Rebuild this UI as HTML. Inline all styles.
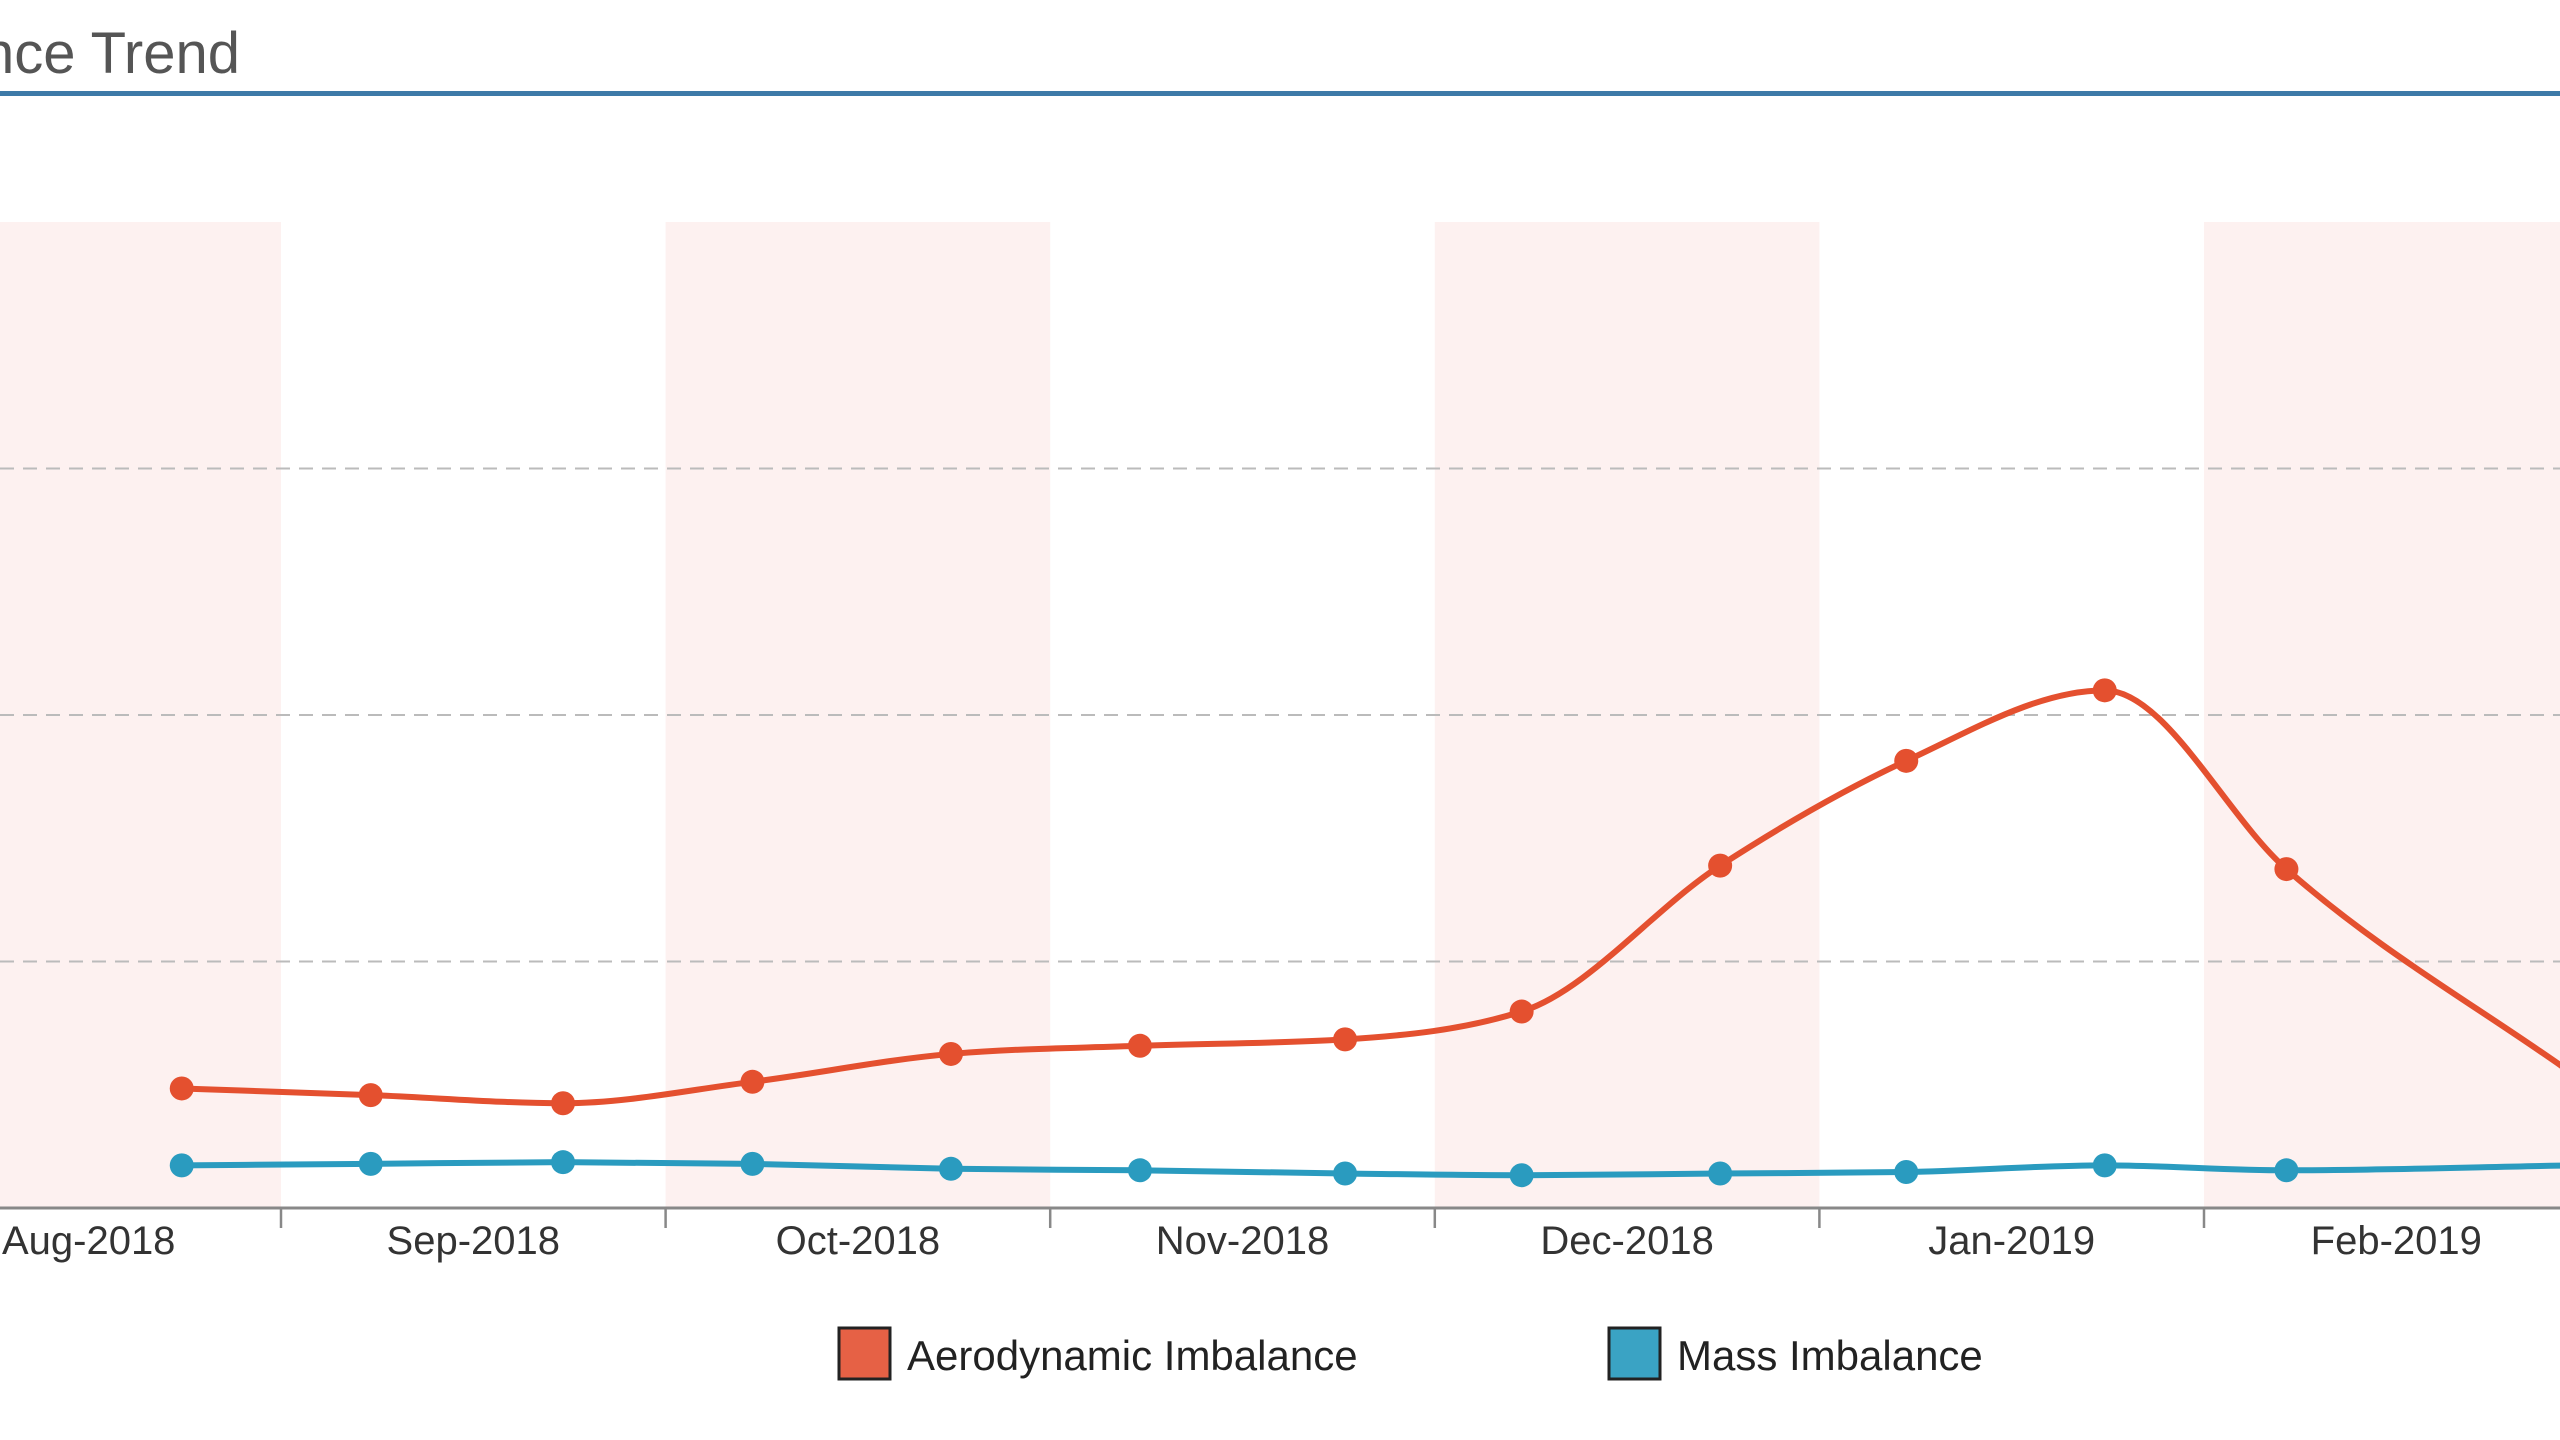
<!DOCTYPE html>
<html><head><meta charset="utf-8"><style>
html,body{margin:0;padding:0;background:#fff;width:2560px;height:1440px;overflow:hidden}
svg{display:block;font-family:"Liberation Sans",sans-serif}
</style></head><body>
<svg id="chart" width="2560" height="1440" viewBox="0 0 2560 1440">
<text x="240" y="73" text-anchor="end" font-size="58" fill="#555">Imbalance Trend</text>
<rect x="0" y="91" width="2560" height="5" fill="#3d7aa8"/>
<g id="bands"></g>
<g id="grid"></g>
<g id="series"></g>
<g id="xaxis"></g>
<g>
<g>
<rect x="839" y="1328" width="51" height="51" fill="#e66145" stroke="#222" stroke-width="3"/>
<text x="907" y="1370" font-size="42" fill="#222">Aerodynamic Imbalance</text></g>
<g>
<rect x="1609" y="1328" width="51" height="51" fill="#3aa3c4" stroke="#222" stroke-width="3"/>
<text x="1677" y="1370" font-size="42" fill="#222">Mass Imbalance</text></g>
</g>
</svg>
<script>
const dates = ["2018-08-24","2018-09-08","2018-09-23","2018-10-08","2018-10-24","2018-11-08","2018-11-24","2018-12-08","2018-12-24","2019-01-08","2019-01-24","2019-02-07","2019-02-28"];
const aeroValues = [0.485,0.458,0.425,0.512,0.625,0.658,0.684,0.797,1.389,1.814,2.10,1.375,0.538];
const massValues = [0.173,0.179,0.186,0.179,0.159,0.153,0.140,0.133,0.140,0.146,0.173,0.153,0.173];
const monthLabels = ["Aug-2018","Sep-2018","Oct-2018","Nov-2018","Dec-2018","Jan-2019","Feb-2019"];
const monthStarts = ["2018-08-01","2018-09-01","2018-10-01","2018-11-01","2018-12-01","2019-01-01","2019-02-01","2019-03-01"];
const yTicks = [1,2,3];
const yMax = 4;

const NS="http://www.w3.org/2000/svg";
const day=86400000;
const monthW=384.6, sepX=281;
function x(d){
  const t=Date.parse(d);
  for(let i=0;i<monthStarts.length-1;i++){
    const a=Date.parse(monthStarts[i]), b=Date.parse(monthStarts[i+1]);
    if(t>=a && t<=b) return sepX+(i-1)*monthW+(t-a)/(b-a)*monthW;
  }
  return sepX+(monthStarts.length-2)*monthW;
}
const yTop=222, yBot=1208;
function y(v){return yBot-(v/yMax)*(yBot-yTop);}
function mk(tag,attrs,parent){const e=document.createElementNS(NS,tag);for(const k in attrs)e.setAttribute(k,attrs[k]);parent.appendChild(e);return e;}

const bands=document.getElementById('bands');
for(let i=0;i<monthLabels.length;i++){
  if(i%2===0){
    const r=mk('rect',{x:x(monthStarts[i]),y:yTop,width:x(monthStarts[i+1])-x(monthStarts[i]),height:yBot-yTop,fill:'#fdf1f0'},bands);
    
    
  }
}
const grid=document.getElementById('grid');
yTicks.forEach(v=>{
  const l=mk('line',{x1:0,x2:2560,y1:y(v),y2:y(v),stroke:'#bbb','stroke-width':2,'stroke-dasharray':'14 9'},grid);
  
  
});
const xa=document.getElementById('xaxis');
const ax=mk('line',{x1:0,x2:2560,y1:yBot,y2:yBot,stroke:'#888','stroke-width':3},xa);


for(let i=0;i<monthLabels.length;i++){
  const tk=mk('line',{x1:x(monthStarts[i]),x2:x(monthStarts[i]),y1:yBot,y2:yBot+20,stroke:'#888','stroke-width':2.5},xa);
  
  
  const cx=(x(monthStarts[i])+x(monthStarts[i+1]))/2;
  const t=mk('text',{x:cx,y:1254,'text-anchor':'middle','font-size':40,fill:'#333'},xa);
  t.textContent=monthLabels[i];
  
  
}
function monotone(pts){
  const n=pts.length, m=[], dx=[], s=[];
  for(let i=0;i<n-1;i++){dx[i]=pts[i+1][0]-pts[i][0];s[i]=(pts[i+1][1]-pts[i][1])/dx[i];}
  for(let i=0;i<n;i++){
    if(i===0)m[i]=s[0];else if(i===n-1)m[i]=s[n-2];
    else if(s[i-1]*s[i]<=0)m[i]=0;
    else{const p=(s[i-1]*dx[i]+s[i]*dx[i-1])/(dx[i-1]+dx[i]);m[i]=(Math.sign(s[i-1])+Math.sign(s[i]))*Math.min(Math.abs(s[i-1]),Math.abs(s[i]),0.5*Math.abs(p));}
  }
  let d=`M${pts[0][0]},${pts[0][1]}`;
  for(let i=0;i<n-1;i++){const h=dx[i]/3;
    d+=`C${pts[i][0]+h},${pts[i][1]+m[i]*h} ${pts[i+1][0]-h},${pts[i+1][1]-m[i+1]*h} ${pts[i+1][0]},${pts[i+1][1]}`;}
  return d;
}
const sg=document.getElementById('series');
function drawSeries(vals,color,name){
  const g=mk('g',{},sg);
  
  
  const pts=dates.map((d,i)=>[x(d),y(vals[i])]);
  const p=mk('path',{d:monotone(pts),fill:'none',stroke:color,'stroke-width':6},g);
  
  
  pts.forEach(pt=>{
    const c=mk('circle',{cx:pt[0],cy:pt[1],r:12,fill:color},g);
    
    
  });
}
drawSeries(massValues,'#2a9bbf','mass-imbalance');
drawSeries(aeroValues,'#e4502f','aerodynamic-imbalance');
</script>
</body></html>
